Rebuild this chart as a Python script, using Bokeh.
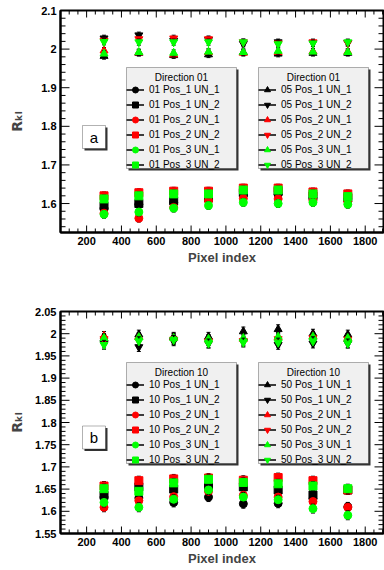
import math
from bokeh.plotting import figure
from bokeh.layouts import column
from bokeh.models import (ColumnDataSource, Legend, LegendItem, Label, FixedTicker,
                          CustomJSTickFormatter, Range1d, BoxAnnotation)
from bokeh.embed import file_html
from bokeh.resources import INLINE

FONT = "Liberation Sans"

# ---------------- data ----------------
pixel_index = [300, 500, 700, 900, 1100, 1300, 1500, 1700]

x_major_ticks = [200, 400, 600, 800, 1000, 1200, 1400, 1600, 1800]
x_tick_labels = ["200", "400", "600", "800", "1000", "1200", "1400", "1600", "1800"]

a_y_major_ticks = [1.6, 1.7, 1.8, 1.9, 2.0, 2.1]
a_y_tick_labels = ["1.6", "1.7", "1.8", "1.9", "2", "2.1"]
b_y_major_ticks = [1.55, 1.6, 1.65, 1.7, 1.75, 1.8, 1.85, 1.9, 1.95, 2.0, 2.05]
b_y_tick_labels = ["1.55", "1.6", "1.65", "1.7", "1.75", "1.8", "1.85", "1.9", "1.95", "2", "2.05"]

# panel a : direction 01, series "01" (circles / squares)
a01_pos1_un1 = [1.588, 1.598, 1.603, 1.610, 1.622, 1.623, 1.615, 1.612]
a01_pos1_un2 = [1.593, 1.600, 1.607, 1.615, 1.628, 1.632, 1.620, 1.615]
a01_pos2_un1 = [1.575, 1.562, 1.590, 1.607, 1.613, 1.612, 1.608, 1.605]
a01_pos2_un2 = [1.620, 1.628, 1.632, 1.632, 1.640, 1.640, 1.630, 1.625]
a01_pos3_un1 = [1.572, 1.578, 1.588, 1.595, 1.603, 1.600, 1.603, 1.598]
a01_pos3_un2 = [1.612, 1.620, 1.625, 1.625, 1.635, 1.635, 1.625, 1.618]
# panel a : direction 01, series "05" (triangles)
a05_pos1_un1 = [1.982, 1.990, 1.984, 1.986, 1.992, 1.988, 1.990, 1.990]
a05_pos1_un2 = [2.028, 2.036, 2.022, 2.024, 2.014, 2.018, 2.016, 2.016]
a05_pos2_un1 = [1.996, 1.991, 1.986, 1.992, 1.990, 1.992, 1.994, 1.993]
a05_pos2_un2 = [2.022, 2.026, 2.028, 2.026, 2.018, 2.015, 2.018, 2.016]
a05_pos3_un1 = [1.988, 1.992, 1.990, 1.993, 1.992, 1.995, 1.993, 1.992]
a05_pos3_un2 = [2.019, 2.018, 2.018, 2.018, 2.018, 2.013, 2.015, 2.018]

# panel b : direction 10, series "10" (circles / squares)
b10_pos1_un1 = [1.632, 1.630, 1.620, 1.632, 1.617, 1.618, 1.628, 1.610]
b10_pos1_un2 = [1.636, 1.655, 1.650, 1.658, 1.655, 1.648, 1.637, 1.648]
b10_pos2_un1 = [1.609, 1.624, 1.633, 1.645, 1.636, 1.632, 1.622, 1.609]
b10_pos2_un2 = [1.657, 1.669, 1.673, 1.675, 1.670, 1.676, 1.669, 1.648]
b10_pos3_un1 = [1.620, 1.609, 1.627, 1.648, 1.632, 1.626, 1.606, 1.591]
b10_pos3_un2 = [1.651, 1.645, 1.664, 1.672, 1.665, 1.662, 1.657, 1.651]
# panel b : direction 10, series "50" (triangles)
b50_pos1_un1 = [1.990, 1.998, 1.993, 1.993, 2.005, 2.010, 2.000, 1.998]
b50_pos1_un2 = [1.978, 1.970, 1.983, 1.978, 1.982, 1.975, 1.978, 1.978]
b50_pos2_un1 = [1.995, 1.992, 1.991, 1.987, 1.988, 1.992, 1.994, 1.990]
b50_pos2_un2 = [1.988, 1.985, 1.987, 1.983, 1.984, 1.988, 1.990, 1.987]
b50_pos3_un1 = [1.990, 1.992, 1.990, 1.988, 1.990, 1.993, 1.993, 1.990]
b50_pos3_un2 = [1.975, 1.983, 1.986, 1.978, 1.980, 1.980, 1.983, 1.978]

a_err_01 = 0.010
a_err_05 = 0.008
b_err_10 = 0.010
b_err_50 = 0.010

labels_a01 = ["01 Pos_1 UN_1", "01 Pos_1 UN_2", "01 Pos_2 UN_1", "01 Pos_2 UN_2", "01 Pos_3 UN_1", "01 Pos_3 UN_2"]
labels_a05 = ["05 Pos_1 UN_1", "05 Pos_1 UN_2", "05 Pos_2 UN_1", "05 Pos_2 UN_2", "05 Pos_3 UN_1", "05 Pos_3 UN_2"]
labels_b10 = ["10 Pos_1 UN_1", "10 Pos_1 UN_2", "10 Pos_2 UN_1", "10 Pos_2 UN_2", "10 Pos_3 UN_1", "10 Pos_3 UN_2"]
labels_b50 = ["50 Pos_1 UN_1", "50 Pos_1 UN_2", "50 Pos_2 UN_1", "50 Pos_2 UN_2", "50 Pos_3 UN_1", "50 Pos_3 UN_2"]

series_colors = ["#000000", "#000000", "#ff0000", "#ff0000", "#00ff00", "#00ff00"]
markers_round = ["circle", "square", "circle", "square", "circle", "square"]
markers_tri = ["triangle", "inverted_triangle", "triangle", "inverted_triangle", "triangle", "inverted_triangle"]

X_START, X_END = 50, 1905
FRAME_LEFT_PX, FRAME_RIGHT_PX = 60, 383
LEGEND_LEFTS_PX = [126, 258]
LEGEND_W = 110
LEGEND_INNER_H = 103.5


def minor_ticks(lo, hi, step, majors):
    k0 = math.ceil(lo / step - 1e-9)
    k1 = math.floor(hi / step + 1e-9)
    out = []
    for k in range(k0, k1 + 1):
        v = round(k * step, 4)
        if all(abs(v - m) > 1e-6 for m in majors):
            out.append(v)
    return out


def label_formatter(ticks, labels):
    return CustomJSTickFormatter(args=dict(t=ticks, l=labels), code="""
        for (let i = 0; i < t.length; i++) { if (Math.abs(t[i] - tick) < 1e-6) return l[i]; }
        return "";
    """)


def style_axis(ax, ticker, formatter):
    ax.ticker = ticker
    ax.axis_line_color = "black"
    ax.axis_line_width = 2
    ax.major_tick_in = 0
    ax.major_tick_out = 0
    ax.minor_tick_in = 0
    ax.minor_tick_out = 0
    ax.formatter = formatter
    ax.major_label_text_font = FONT
    ax.major_label_text_font_style = "bold"
    ax.major_label_text_font_size = "11px"
    ax.major_label_text_color = "black"
    ax.major_label_standoff = 4


def draw_ticks(p, y0, y1, y_major, y_minor, x_minor):
    # inside-pointing ticks on all four frame sides (clipped to the frame)
    for xs_edge in (X_START, X_END):
        p.scatter(x=[xs_edge] * len(y_major), y=y_major, marker="dash", size=18,
                  line_color="black", line_width=1)
        p.scatter(x=[xs_edge] * len(y_minor), y=y_minor, marker="dash", size=10,
                  line_color="black", line_width=1)
    for ys_edge in (y0, y1):
        p.scatter(x=x_major_ticks, y=[ys_edge] * len(x_major_ticks), marker="dash", angle=math.pi / 2,
                  size=14, line_color="black", line_width=1)
        p.scatter(x=x_minor, y=[ys_edge] * len(x_minor), marker="dash", angle=math.pi / 2,
                  size=8, line_color="black", line_width=1)


def build_panel(height, mb_top, mb_bottom, frame_top_px, frame_bottom_px, y_range,
                y_major, y_labels, y_minor_step, groups, legend_titles, box_top_px, box_bottom_px,
                title_py, items_bottom_px, letter, letter_py, ylabel_standoff):
    y0, y1 = y_range

    def px_x(px):
        return X_START + (px - FRAME_LEFT_PX) * (X_END - X_START) / (FRAME_RIGHT_PX - FRAME_LEFT_PX)

    def py_y(py):
        return y0 + (frame_bottom_px - py) * (y1 - y0) / (frame_bottom_px - frame_top_px)

    p = figure(width=384, height=height, x_range=Range1d(X_START, X_END), y_range=Range1d(y0, y1),
               output_backend="svg", toolbar_location=None,
               min_border_left=60, min_border_right=1, min_border_top=mb_top, min_border_bottom=mb_bottom,
               outline_line_color="black", outline_line_width=2,
               background_fill_color="white", border_fill_color="white")
    p.xgrid.visible = False
    p.ygrid.visible = False

    x_minor = minor_ticks(X_START, X_END, 50, x_major_ticks)
    y_minor = minor_ticks(y0, y1, y_minor_step, y_major)
    xt = FixedTicker(ticks=x_major_ticks, minor_ticks=x_minor)
    yt = FixedTicker(ticks=y_major, minor_ticks=y_minor)

    style_axis(p.below[0], xt, label_formatter(x_major_ticks, x_tick_labels))
    style_axis(p.left[0], yt, label_formatter(y_major, y_labels))

    xa = p.below[0]
    xa.axis_label = "Pixel index"
    xa.axis_label_text_font = FONT
    xa.axis_label_text_font_style = "bold"
    xa.axis_label_text_font_size = "13px"
    xa.axis_label_standoff = 2

    ya = p.left[0]
    ya.axis_label = "R\u2096\u2097"
    ya.axis_label_text_font = "DejaVu Sans"
    ya.axis_label_text_font_style = "bold"
    ya.axis_label_text_font_size = "14px"
    ya.axis_label_standoff = ylabel_standoff

    # legend boxes (with shadow) and the panel letter box (with shadow)
    for lx in LEGEND_LEFTS_PX:
        p.add_layout(BoxAnnotation(left=px_x(lx + 2), right=px_x(lx + LEGEND_W + 2),
                                   top=py_y(box_top_px + 2), bottom=py_y(box_bottom_px + 2),
                                   fill_color="#333333", fill_alpha=1, line_color=None, level="underlay"))
        p.add_layout(BoxAnnotation(left=px_x(lx), right=px_x(lx + LEGEND_W),
                                   top=py_y(box_top_px), bottom=py_y(box_bottom_px),
                                   fill_color="#f0f0f0", fill_alpha=1, line_color="black",
                                   line_width=1, level="underlay"))
    p.add_layout(BoxAnnotation(left=px_x(84), right=px_x(107), top=py_y(letter_py - 9.5),
                               bottom=py_y(letter_py + 13.5), fill_color="#333333", fill_alpha=1,
                               line_color=None, level="underlay"))
    p.add_layout(BoxAnnotation(left=px_x(82), right=px_x(105), top=py_y(letter_py - 11.5),
                               bottom=py_y(letter_py + 11.5), fill_color="white", fill_alpha=1,
                               line_color="black", line_width=1, level="underlay"))

    draw_ticks(p, y0, y1, y_major, y_minor, x_minor)

    legends = []
    for (vals_list, labels, markers, err) in groups:
        items = []
        for vals, lab, col, mk in zip(vals_list, labels, series_colors, markers):
            src = ColumnDataSource(dict(x=pixel_index, y=vals,
                                        lo=[v - err for v in vals], hi=[v + err for v in vals]))
            seg = p.segment(x0="x", y0="lo", x1="x", y1="hi", source=src, line_color="black", line_width=1.5)
            p.scatter(x="x", y="lo", marker="dash", size=4, line_color="black", line_width=1, source=src)
            p.scatter(x="x", y="hi", marker="dash", size=4, line_color="black", line_width=1, source=src)
            sc = p.scatter(x="x", y="y", marker=mk, size=8, fill_color=col, line_color=col, source=src)
            items.append(LegendItem(label=lab, renderers=[seg, sc]))
        legends.append(items)

    for items, lx in zip(legends, LEGEND_LEFTS_PX):
        leg = Legend(items=items, location=(lx - FRAME_LEFT_PX, frame_bottom_px - items_bottom_px),
                     title=" ", title_text_font_size="10px", title_standoff=0,
                     padding=1, spacing=0, glyph_width=18, glyph_height=15,
                     label_height=15, label_width=85, label_standoff=5,
                     label_text_font=FONT, label_text_font_size="10px", label_text_color="black",
                     border_line_color=None, background_fill_alpha=0, margin=0)
        p.add_layout(leg)

    for title, lx in zip(legend_titles, LEGEND_LEFTS_PX):
        p.add_layout(Label(x=px_x(lx + LEGEND_W / 2), y=py_y(title_py), text=title,
                           text_align="center", text_baseline="middle", text_font=FONT,
                           text_font_size="10px", text_color="black"))

    p.add_layout(Label(x=px_x(93.5), y=py_y(letter_py), text=letter, text_align="center",
                       text_baseline="middle", text_font=FONT, text_font_size="15px",
                       text_color="black"))
    return p


p1 = build_panel(288, 10, 56, 10, 232, (1.525, 2.1), a_y_major_ticks, a_y_tick_labels, 0.02,
                 [([a01_pos1_un1, a01_pos1_un2, a01_pos2_un1, a01_pos2_un2, a01_pos3_un1, a01_pos3_un2],
                   labels_a01, markers_round, a_err_01),
                  ([a05_pos1_un1, a05_pos1_un2, a05_pos2_un1, a05_pos2_un2, a05_pos3_un1, a05_pos3_un2],
                   labels_a05, markers_tri, a_err_05)],
                 ["Direction 01", "Direction 01"], 67, 168, 77, 172, "a", 136.5, 13)

p2 = build_panel(282, 23, 37, 311, 533, (1.55, 2.05), b_y_major_ticks, b_y_tick_labels, 0.01,
                 [([b10_pos1_un1, b10_pos1_un2, b10_pos2_un1, b10_pos2_un2, b10_pos3_un1, b10_pos3_un2],
                   labels_b10, markers_round, b_err_10),
                  ([b50_pos1_un1, b50_pos1_un2, b50_pos2_un1, b50_pos2_un2, b50_pos3_un1, b50_pos3_un2],
                   labels_b50, markers_tri, b_err_50)],
                 ["Direction 10", "Direction 10"], 362, 463, 372, 467, "b", 437, 7)

layout = column(p1, p2, spacing=0)
open("out.html", "w").write(file_html(layout, INLINE))
